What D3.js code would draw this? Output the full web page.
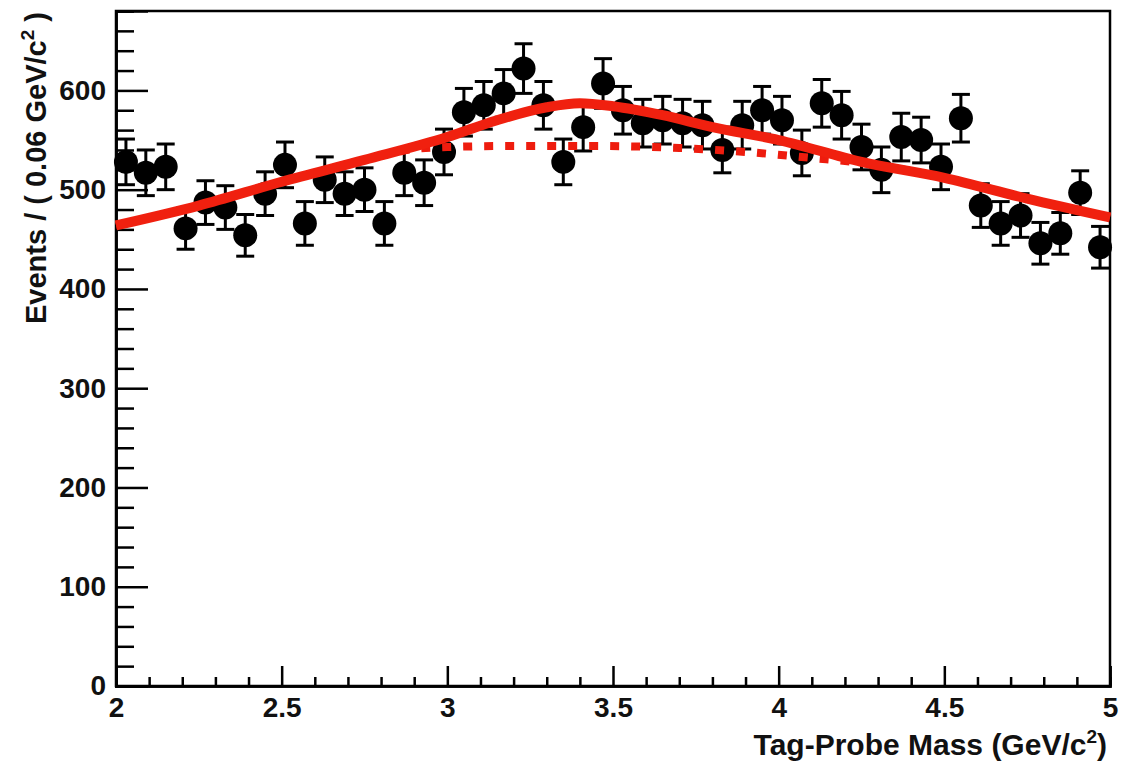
<!DOCTYPE html>
<html>
<head>
<meta charset="utf-8">
<script src="https://cdn.jsdelivr.net/npm/d3@7"></script>
<style>
  html, body { margin: 0; padding: 0; background: #fff; }
  svg { display: block; }
  text { font-family: "Liberation Sans", Arial, Helvetica, sans-serif; font-weight: bold; fill: #111; }
</style>
</head>
<body>
<svg id="chart" width="1129" height="764"></svg>
<script>
// ---- data ----
const binCenters = [2.03,2.09,2.15,2.21,2.27,2.33,2.39,2.45,2.51,2.57,
                    2.63,2.69,2.75,2.81,2.87,2.93,2.99,3.05,3.11,3.17,
                    3.23,3.29,3.35,3.41,3.47,3.53,3.59,3.65,3.71,3.77,
                    3.83,3.89,3.95,4.01,4.07,4.13,4.19,4.25,4.31,4.37,
                    4.43,4.49,4.55,4.61,4.67,4.73,4.79,4.85,4.91,4.97];
const events = [528,517,523,461,487,482,454,496,525,466,
                510,496,500,466,517,507,538,578,585,597,
                622,585,528,563,607,580,567,570,567,565,
                540,565,580,570,537,587,575,543,520,553,
                550,523,572,484,466,474,446,456,497,442];
const errors = [23,23,23,21,22,22,21,22,23,22,
                23,22,22,22,23,23,23,24,24,24,
                25,24,23,24,25,24,24,24,24,24,
                23,24,24,24,23,24,24,23,23,24,
                23,23,24,22,22,22,21,21,22,21];
// total fit (solid red) read at sample points
const fitX     = [2.0, 2.25, 2.5, 2.75, 3.0, 3.15, 3.3, 3.4, 3.5, 3.65, 3.8, 4.0, 4.25, 4.5, 4.75, 5.0];
const fitY     = [464, 484, 508, 530, 553, 570, 583, 587, 584, 575, 563, 550, 528, 512, 491, 472];
// background component (dotted red)
const bkgX     = [2.0, 2.25, 2.5, 2.75, 2.9, 3.0, 3.2, 3.45, 3.7, 3.9, 4.1, 4.25, 4.5, 4.75, 5.0];
const bkgY     = [464, 484, 508, 530, 541, 543, 544, 544, 542, 538, 532, 527, 512, 491, 472];
const xMajorTicks = [2, 2.5, 3, 3.5, 4, 4.5, 5];
const xTickLabels = ["2", "2.5", "3", "3.5", "4", "4.5", "5"];
const yMajorTicks = [0, 100, 200, 300, 400, 500, 600];
const xTitle = "Tag-Probe Mass (GeV/c";
const yTitle = "Events / ( 0.06 GeV/c";

// ---- layout ----
const L = 116, R = 1110, T = 11, B = 686;
const svg = d3.select("#chart");
const x = d3.scaleLinear().domain([2, 5]).range([L, R]);
const y = d3.scaleLinear().domain([0, 680]).range([B, T]);

// frame
svg.append("rect").attr("x", L).attr("y", T).attr("width", R - L).attr("height", B - T)
  .attr("fill", "none").attr("stroke", "#000").attr("stroke-width", 2.5);

// minor ticks
const xMinor = d3.range(2, 5.0001, 0.1).map(v => +v.toFixed(2)).filter(v => !xMajorTicks.some(m => Math.abs(m - v) < 1e-6));
const yMinor = d3.range(0, 681, 20).filter(v => v % 100 !== 0);

const gx = svg.append("g").attr("transform", `translate(0,${B})`);
gx.call(d3.axisBottom(x).tickValues(xMinor).tickSize(-9).tickFormat(""));
gx.append("g").call(d3.axisBottom(x).tickValues(xMajorTicks).tickSize(-20).tickPadding(11)
  .tickFormat((d, i) => xTickLabels[i]));
gx.selectAll("path.domain").attr("stroke", "#000").attr("stroke-width", 2.5);
gx.selectAll("line").attr("stroke", "#000").attr("stroke-width", 2.5);
gx.selectAll("text").attr("font-size", 28).attr("fill", "#111");

const gy = svg.append("g").attr("transform", `translate(${L},0)`);
gy.call(d3.axisLeft(y).tickValues(yMinor).tickSize(-18).tickFormat(""));
gy.append("g").call(d3.axisLeft(y).tickValues(yMajorTicks).tickSize(-32).tickPadding(10).tickFormat(d3.format("d")));
gy.selectAll("path.domain").attr("stroke", "#000").attr("stroke-width", 2.5);
gy.selectAll("line").attr("stroke", "#000").attr("stroke-width", 2.5);
gy.selectAll("text").attr("font-size", 28).attr("fill", "#111");

// axis titles
const xt = svg.append("text").attr("x", 1107).attr("y", 755).attr("text-anchor", "end").attr("font-size", 30);
xt.append("tspan").text(xTitle);
xt.append("tspan").attr("font-size", 19).attr("dy", -12).text("2");
xt.append("tspan").attr("dy", 12).text(")");

const yt = svg.append("text").attr("transform", "translate(46,12) rotate(-90)")
  .attr("text-anchor", "end").attr("font-size", 29);
yt.append("tspan").text(yTitle);
yt.append("tspan").attr("font-size", 19).attr("dy", -12).text("2");
yt.append("tspan").attr("dy", 12).text(" )");

// data points
const pts = svg.append("g");
const data = binCenters.map((c, i) => ({ c, v: events[i], e: errors[i] }));
const capW = 9;
const g = pts.selectAll("g.pt").data(data).join("g").attr("class", "pt");
g.append("line").attr("x1", d => x(d.c)).attr("x2", d => x(d.c))
  .attr("y1", d => y(d.v + d.e)).attr("y2", d => y(d.v - d.e))
  .attr("stroke", "#000").attr("stroke-width", 3);
g.append("line").attr("x1", d => x(d.c) - capW).attr("x2", d => x(d.c) + capW)
  .attr("y1", d => y(d.v + d.e)).attr("y2", d => y(d.v + d.e))
  .attr("stroke", "#000").attr("stroke-width", 3);
g.append("line").attr("x1", d => x(d.c) - capW).attr("x2", d => x(d.c) + capW)
  .attr("y1", d => y(d.v - d.e)).attr("y2", d => y(d.v - d.e))
  .attr("stroke", "#000").attr("stroke-width", 3);
g.append("circle").attr("cx", d => x(d.c)).attr("cy", d => y(d.v)).attr("r", 12).attr("fill", "#000");

// fit curves
const line = d3.line().x(d => x(d[0])).y(d => y(d[1])).curve(d3.curveMonotoneX);
svg.append("path").datum(bkgX.map((v, i) => [v, bkgY[i]]))
  .attr("d", line).attr("fill", "none").attr("stroke", "#ee1c0e").attr("stroke-width", 8)
  .attr("stroke-dasharray", "9,12");
svg.append("path").datum(fitX.map((v, i) => [v, fitY[i]]))
  .attr("d", line).attr("fill", "none").attr("stroke", "#f0200f").attr("stroke-width", 10);
</script>
</body>
</html>
